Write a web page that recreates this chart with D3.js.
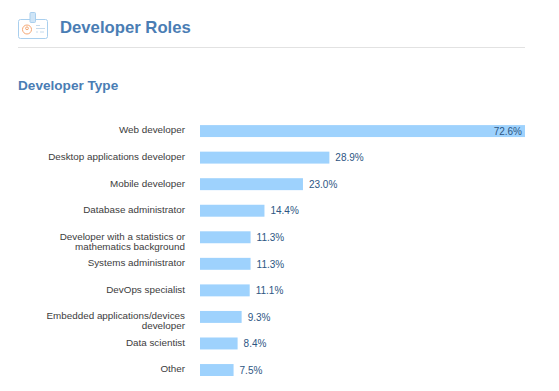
<!DOCTYPE html>
<html>
<head>
    <meta charset="utf-8">
    <title>Developer Roles</title>
    <script src="https://cdn.jsdelivr.net/npm/d3@7"></script>
    <style>
        html, body { margin: 0; padding: 0; background: #fff; overflow: hidden; }
        svg { display: block; font-family: "Liberation Sans", Arial, sans-serif; }
    </style>
</head>
<body>
<script>
    var categories = [
        ["Web developer"],
        ["Desktop applications developer"],
        ["Mobile developer"],
        ["Database administrator"],
        ["Developer with a statistics or", "mathematics background"],
        ["Systems administrator"],
        ["DevOps specialist"],
        ["Embedded applications/devices", "developer"],
        ["Data scientist"],
        ["Other"]
    ];
    var shares = [72.6, 28.9, 23.0, 14.4, 11.3, 11.3, 11.1, 9.3, 8.4, 7.5];
    var pageTitle = "Developer Roles";
    var sectionTitle = "Developer Type";

    var width = 559, height = 391;
    var svg = d3.select("body").append("svg")
        .attr("width", width)
        .attr("height", height);

    // header
    var icon = svg.append("g").attr("fill", "none").attr("stroke", "#a9cfee");
    icon.append("rect").attr("x", 18.5).attr("y", 19.5).attr("width", 29).attr("height", 19).attr("rx", 2);
    icon.append("rect").attr("x", 30).attr("y", 12.5).attr("width", 5.5).attr("height", 10).attr("rx", 1).attr("fill", "#cfe5f7");
    icon.append("circle").attr("cx", 27).attr("cy", 29.5).attr("r", 4.5).attr("stroke", "#f5a874");
    icon.append("circle").attr("cx", 27).attr("cy", 28.3).attr("r", 1.4).attr("stroke", "#f5a874");
    icon.append("path").attr("stroke", "#c5daec").attr("d", "M36 25.5h4M36 28.5h9M36 32h2M40 32h4");

    svg.append("text")
        .attr("x", 60).attr("y", 32.5)
        .attr("font-size", 16.7).attr("font-weight", "bold").attr("fill", "#4a7db4")
        .text(pageTitle);
    svg.append("line")
        .attr("x1", 18).attr("x2", 525).attr("y1", 47.5).attr("y2", 47.5)
        .attr("stroke", "#e2e2e2");
    svg.append("text")
        .attr("x", 18).attr("y", 89.5)
        .attr("font-size", 13.6).attr("font-weight", "bold").attr("fill", "#4a7db4")
        .text(sectionTitle);

    // chart
    var x = d3.scaleLinear().domain([0, 72.6]).range([200, 525]);
    var y = d3.scaleBand().domain(d3.range(shares.length)).range([117.8, 383.3]).paddingInner(0.55).paddingOuter(0.275);

    var rows = svg.append("g").selectAll("g")
        .data(shares)
        .enter().append("g");

    rows.append("rect")
        .attr("x", x(0))
        .attr("y", function (d, i) { return y(i); })
        .attr("width", function (d) { return x(d) - x(0); })
        .attr("height", y.bandwidth())
        .attr("fill", "#9ed2fd");

    // the longest bar holds its label inside
    rows.append("text")
        .attr("x", function (d) { return x(d) > 480 ? x(d) - 3 : x(d) + 6; })
        .attr("y", function (d, i) { return y(i) + y.bandwidth() / 2 + 3.7; })
        .attr("text-anchor", function (d) { return x(d) > 480 ? "end" : "start"; })
        .attr("font-size", 10).attr("fill", "#2d5683")
        .text(function (d) { return d.toFixed(1) + "%"; });

    var labels = rows.append("text")
        .attr("text-anchor", "end")
        .attr("font-size", 9.85).attr("fill", "#3c3c3c");
    labels.selectAll("tspan")
        .data(function (d, i) { return categories[i].map(function (t) { return {t: t, row: i}; }); })
        .enter().append("tspan")
        .attr("x", 185)
        .attr("y", function (d, j) { return y(d.row) + y.bandwidth() / 2 + 2.4 + j * 10; })
        .text(function (d) { return d.t; });
</script>
</body>
</html>
